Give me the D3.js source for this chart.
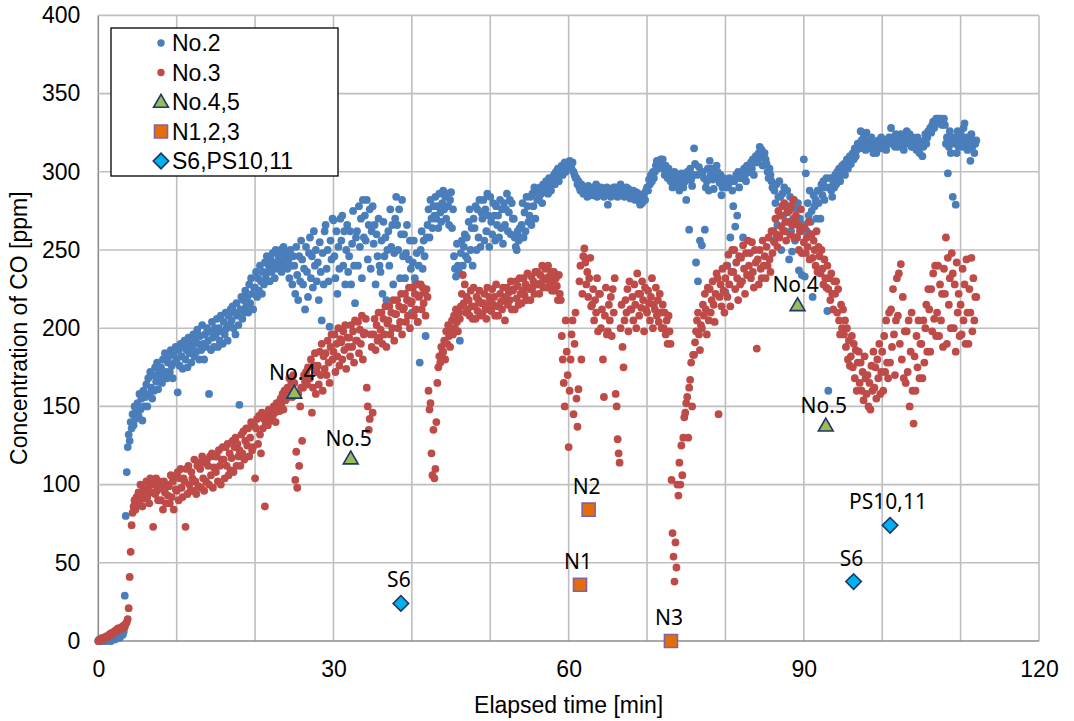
<!DOCTYPE html>
<html><head><meta charset="utf-8">
<script src="https://cdn.jsdelivr.net/npm/d3@7"></script>
<style>body{margin:0;background:#fff}</style>
</head><body>
<svg id="c" width="1074" height="721"></svg>
<script>
// logger sampling interval (min): 8 readings per minute
const sampleInterval = 0.125;
// No.2 CO readings (ppm), one group of 8 per minute
const no2 = [
0,1,0,0,1,0,1,0, 1,0,1,2,1,0,2,1, 2,1,3,2,4,3,2,4, 5,4,6,29,80,108,124,132,
128,140,136,145,138,150,142,147, 152,144,158,148,155,141,160,150, 156,164,150,168,158,172,162,155, 170,160,175,166,178,161,172,168,
175,165,180,170,184,172,168,178, 182,172,186,176,168,183,178,188, 180,159,186,176,190,182,174,188, 192,180,186,175,194,184,190,178,
188,196,182,192,185,199,190,180, 195,186,202,190,180,196,188,200, 192,158,198,186,204,194,188,200, 196,206,188,200,192,208,198,190,
204,196,210,200,192,208,202,212, 205,214,200,210,196,216,208,202, 151,212,220,206,218,210,224,214, 220,210,228,216,232,222,212,226,
226,236,220,232,224,240,230,222, 236,228,242,232,246,236,240,230, 244,236,248,240,232,250,242,238, 246,240,250,236,244,252,240,246,
248,238,244,232,250,240,228,246, 240,222,252,234,218,246,230,256, 244,228,238,212,252,236,220,248, 258,232,246,226,262,240,250,230,
242,218,255,236,205,248,228,262, 266,238,250,230,201,256,244,270, 269,246,232,262,222,252,238,270, 256,272,240,262,228,250,266,236,
246,262,228,254,275,240,216,258, 262,240,278,252,270,232,282,258, 272,256,282,244,266,276,238,262, 278,254,266,228,260,246,270,240,
236,256,222,268,246,258,218,250, 262,240,276,252,266,228,248,270, 284,266,250,276,232,260,282,246, 260,232,248,266,218,244,256,238,
210,242,256,232,229,248,204,240, 178,250,262,238,256,246,195,258, 266,276,258,282,270,264,278,272, 284,270,278,264,286,274,268,280,
288,276,284,270,286,278,266,282, 287,264,276,246,238,233,254,240, 236,192,248,256,240,252,260,246, 258,244,268,276,250,264,240,270,
264,278,250,276,258,282,252,274, 270,282,256,276,262,286,272,252, 284,268,260,280,272,256,278,266, 272,258,282,264,276,254,280,266,
276,286,262,274,282,260,280,270, 270,258,252,250,262,256,264,258, 266,280,258,274,262,284,278,268, 272,284,266,286,278,290,270,288,
282,288,284,290,286,280,292,288, 288,294,290,286,296,292,288,294, 294,298,292,300,296,302,294,298, 300,304,298,302,306,300,304,302,
304,307,305,302,306,300,298,296, 296,292,294,290,288,292,289,286, 290,286,288,284,291,287,285,289, 288,285,290,286,292,284,288,286,
287,290,285,288,284,289,286,290, 279,286,289,284,288,286,290,285, 290,286,284,289,287,292,285,288, 288,284,287,290,285,289,286,283,
286,283,288,285,282,287,284,286, 281,279,284,280,283,286,282,288, 290,288,295,292,298,294,300,296, 300,304,307,302,306,303,308,304,
308,302,298,304,300,296,302,298, 294,298,290,296,300,292,298,295, 291,288,296,299,293,290,297,294, 282,300,296,263,302,295,291,298,
315,305,242,298,230,303,256,300, 253,300,296,263,290,294,302,288, 307,298,302,295,289,300,296,304, 300,296,293,298,285,290,296,292,
223,290,240,292,296,258,294,288, 278,294,265,298,272,300,290,296, 296,300,258,302,298,294,304,300, 304,300,306,302,308,298,306,310,
310,306,312,316,309,314,304,312, 312,308,305,300,296,302,298,294, 290,256,288,280,292,266,284,294, 284,250,286,272,290,262,278,288,
278,244,284,262,249,270,282,256, 276,258,280,237,270,262,234,266, 308,233,299,262,280,272,288,268, 275,220,285,278,282,270,288,280,
288,270,292,285,294,282,290,296, 211,160,290,296,288,284,294,290, 298,292,300,296,302,294,298,304, 300,305,298,304,308,302,306,310,
305,310,312,308,315,310,314,318, 318,315,326,320,316,322,318,314, 325,318,315,320,316,322,318,312, 314,318,312,316,320,318,315,322,
318,315,320,316,314,320,318,322, 318,328,322,318,320,316,324,320, 316,322,318,324,320,318,314,322, 322,326,320,318,324,320,316,322,
316,320,318,314,322,318,312,316, 318,310,316,320,324,318,322,326, 326,328,325,330,332,328,330,334, 334,333,334,332,334,330,333,334,
330,318,322,299,316,326,312,320, 284,322,318,279,312,326,316,322, 325,320,316,328,331,318,322,314, 322,318,307,324,316,320,312,318,
320
];
// No.3 CO readings (ppm), one group of 8 per minute
const no3 = [
0,0,1,1,2,1,2,2, 3,2,3,4,4,5,4,5, 6,6,7,6,8,7,8,8, 9,8,10,9,11,12,14,21,
41,57,74,82,86,90,84,92, 88,95,90,100,93,86,97,91, 96,102,92,99,88,104,95,100, 73,100,94,104,96,90,102,98,
90,98,84,102,95,88,100,93, 99,88,106,92,102,84,105,97, 96,108,90,104,110,98,92,104, 102,73,110,94,112,100,96,108,
104,96,116,102,94,112,99,114, 110,98,118,104,96,114,102,116, 112,100,118,106,120,98,111,118, 108,118,102,122,112,100,116,124,
116,104,124,112,126,106,120,109, 117,128,108,124,130,112,126,118, 122,112,132,120,134,116,128,136, 125,136,118,130,140,122,124,138,
104,136,142,126,144,132,120,146, 136,142,86,139,145,138,148,141, 141,148,144,150,146,140,152,147, 152,147,155,150,158,148,160,154,
155,162,158,168,160,165,156,170, 165,103,121,98,158,112,150,162, 128,162,170,166,172,164,175,168, 168,180,146,162,176,184,158,172,
176,164,185,170,190,160,182,174, 184,170,192,178,165,188,196,180, 185,196,172,190,182,200,176,193, 191,180,198,186,202,174,194,188,
194,182,202,188,198,178,205,192, 192,204,184,199,190,208,180,196, 197,206,162,150,135,142,196,188, 146,196,206,186,202,192,210,194,
199,210,190,206,196,214,188,203, 205,214,196,210,200,218,192,209, 209,218,200,214,204,222,196,212, 213,222,204,218,208,226,200,216,
217,226,208,222,212,228,204,220, 221,228,212,226,216,223,208,225, 220,160,148,152,120,106,135,104, 110,140,165,175,182,178,188,184,
185,192,180,198,190,202,195,188, 200,205,196,208,200,212,204,198, 210,206,214,222,234,216,228,210, 220,212,218,208,224,214,206,226,
214,206,220,211,218,224,208,216, 209,216,222,212,206,226,214,220, 218,211,225,215,220,208,228,214, 208,214,222,217,212,226,218,205,
220,226,215,223,218,230,212,224, 225,212,230,219,227,215,232,222, 216,224,232,221,228,218,235,226, 225,218,233,226,230,222,236,228,
236,228,222,234,229,240,226,232, 238,231,226,240,233,228,236,224, 230,236,224,232,227,218,234,222, 218,195,180,165,150,205,185,170,
124,160,180,196,205,145,190,210, 155,137,161,230,240,180,222,246, 251,242,228,236,220,232,245,214, 215,225,205,218,210,232,198,222,
222,200,212,180,156,208,226,196, 198,215,205,220,195,225,210,232, 158,150,129,120,114,200,215,188, 175,205,218,210,225,198,230,212,
212,220,205,228,215,200,235,222, 208,222,213,230,218,198,226,212, 210,224,216,205,220,232,200,215, 212,226,208,218,204,222,210,200,
215,200,210,196,205,190,208,198, 190,103,69,54,38,63,47,100, 93,114,100,125,106,130,143,146, 152,156,130,162,167,178,150,183,
183,191,198,205,210,196,186,202, 200,215,208,222,212,196,226,205, 225,210,218,230,215,204,222,235, 232,145,220,228,214,238,224,210,
232,240,220,247,228,214,236,250, 236,250,225,242,232,218,246,228, 245,230,253,238,222,248,234,256, 240,248,232,255,236,226,250,242,
187,244,228,250,238,232,256,240, 246,232,252,240,258,244,236,262, 248,262,255,270,260,252,275,258, 272,265,278,262,280,268,256,274,
268,275,260,278,266,282,258,270, 272,258,266,250,262,276,248,264, 255,264,248,258,252,268,244,260, 260,245,256,250,240,262,236,252,
246,235,250,238,228,244,232,226, 240,225,232,218,235,222,212,230, 222,230,210,225,205,196,215,200, 212,196,205,188,200,180,192,176,
182,195,175,190,168,186,160,178, 185,165,178,160,172,154,182,168, 158,170,150,165,148,176,160,185, 162,175,155,180,168,190,158,172,
185,160,195,172,205,178,168,210, 178,212,188,225,196,170,205,232, 208,235,190,241,180,220,168,198, 165,198,172,205,150,185,210,160,
139,182,160,195,175,205,168,190, 190,168,205,178,200,215,185,225, 212,185,225,198,235,206,240,195, 210,240,195,228,205,222,188,238,
222,258,190,245,215,232,200,248, 235,200,228,185,242,210,222,195, 215,196,238,205,228,190,244,210, 190,225,210,245,198,232,205,220,
220
];
// spot measurements
const no45Time = [25.0, 32.2, 89.2, 92.8];
const no45Value = [158, 116, 214, 137];
const no45Label = ["No.4", "No.5", "No.4", "No.5"];
const nTime = [61.45, 62.55, 73.05];
const nValue = [36, 84, 0];
const nLabel = ["N1", "N2", "N3"];
const sTime = [38.6, 96.35, 101.0];
const sValue = [24, 38, 74];
const sLabel = ["S6", "S6", "PS10,11"];

const xTicks = [0, 30, 60, 90, 120];
const xGrid = [0,10,20,30,40,50,60,70,80,90,100,110,120];
const yTicks = [0,50,100,150,200,250,300,350,400];
const legendLabels = ["No.2", "No.3", "No.4,5", "N1,2,3", "S6,PS10,11"];

const svg = d3.select("#c");
svg.append("rect").attr("width",1074).attr("height",721).attr("fill","#fff");
const x = d3.scaleLinear().domain([0,120]).range([98.3,1039]);
const y = d3.scaleLinear().domain([0,400]).range([641,15.4]);

const grid = svg.append("g");
grid.selectAll("line.v").data(xGrid).join("line")
  .attr("x1",d=>x(d)).attr("x2",d=>x(d)).attr("y1",y(0)).attr("y2",y(400))
  .attr("stroke",d=>d===0?"#8c8c8c":"#bfbfbf").attr("stroke-width",1.6);
grid.selectAll("line.h").data(yTicks).join("line")
  .attr("x1",x(0)).attr("x2",x(120)).attr("y1",d=>y(d)).attr("y2",d=>y(d))
  .attr("stroke",d=>d===0?"#8c8c8c":"#bfbfbf").attr("stroke-width",1.6);

const font = "Liberation Sans, Arial, sans-serif";
const yAxis = svg.append("g").attr("transform",`translate(${x(0)},0)`)
  .call(d3.axisLeft(y).tickValues(yTicks).tickSize(0).tickPadding(18));
const xAxis = svg.append("g").attr("transform",`translate(0,${y(0)})`)
  .call(d3.axisBottom(x).tickValues(xTicks).tickSize(0).tickPadding(20));
[xAxis,yAxis].forEach(a=>{a.select(".domain").remove();
  a.selectAll("text").attr("font-family",font).attr("font-size",23).attr("fill","#000");});

svg.append("text").attr("x",(x(0)+x(120))/2).attr("y",713).attr("text-anchor","middle")
  .attr("font-family",font).attr("font-size",23).text("Elapsed time [min]");
svg.append("text").attr("transform",`translate(27,${(y(0)+y(400))/2}) rotate(-90)`)
  .attr("text-anchor","middle").attr("font-family",font).attr("font-size",23)
  .text("Concentration of CO [ppm]");

const blue = "#4a7ebb", red = "#be4b48";
const plot = svg.append("g");
plot.selectAll("circle.b").data(no2).join("circle")
  .attr("cx",(d,i)=>x(i*sampleInterval)).attr("cy",d=>y(d)).attr("r",3.9).attr("fill",blue);
plot.selectAll("circle.r").data(no3).join("circle")
  .attr("cx",(d,i)=>x(i*sampleInterval)).attr("cy",d=>y(d)).attr("r",3.9).attr("fill",red);

const tri = d3.symbol().type(d3.symbolTriangle).size(95);
const sq = d3.symbol().type(d3.symbolSquare).size(170);
const dia = d3.symbol().type(d3.symbolSquare).size(120);
const labelFont = "Noto Sans, Open Sans, sans-serif";

function spot(times, vals, labels, sym, rot, fill, stroke, off){
  const g = svg.append("g");
  g.selectAll("path").data(times).join("path")
    .attr("d",sym).attr("transform",(d,i)=>`translate(${x(d)},${y(vals[i])}) rotate(${rot})`)
    .attr("fill",fill).attr("stroke",stroke).attr("stroke-width",1.6);
  g.selectAll("text").data(times).join("text")
    .attr("x",(d)=>x(d)-2).attr("y",(d,i)=>y(vals[i])-off)
    .attr("text-anchor","middle").attr("font-family",labelFont).attr("font-size",21)
    .attr("fill","#000").text((d,i)=>labels[i]);
}
spot(no45Time,no45Value,no45Label,tri,0,"#9bbb59","#1f3864",14);
spot(nTime,nValue,nLabel,sq,0,"#e46c0a","#8064a2",16);
spot(sTime,sValue,sLabel,dia,45,"#00b0f0","#1f3864",16);

// legend
const lg = svg.append("g");
lg.append("rect").attr("x",111).attr("y",28).attr("width",227).attr("height",148)
  .attr("fill","#fff").attr("stroke","#000").attr("stroke-width",1.3);
const rowY = d3.scalePoint().domain(legendLabels).range([43,161]);
lg.selectAll("text").data(legendLabels).join("text")
  .attr("x",172).attr("y",d=>rowY(d)+8).attr("font-family",font).attr("font-size",23)
  .text(d=>d);
const mx = 161;
lg.append("circle").attr("cx",mx).attr("cy",rowY("No.2")).attr("r",3.7).attr("fill",blue);
lg.append("circle").attr("cx",mx).attr("cy",rowY("No.3")).attr("r",3.7).attr("fill",red);
lg.append("path").attr("d",tri).attr("transform",`translate(${mx},${rowY("No.4,5")+1})`)
  .attr("fill","#9bbb59").attr("stroke","#1f3864").attr("stroke-width",1.6);
lg.append("path").attr("d",sq).attr("transform",`translate(${mx},${rowY("N1,2,3")})`)
  .attr("fill","#e46c0a").attr("stroke","#8064a2").attr("stroke-width",1.6);
lg.append("path").attr("d",dia).attr("transform",`translate(${mx},${rowY("S6,PS10,11")}) rotate(45)`)
  .attr("fill","#00b0f0").attr("stroke","#1f3864").attr("stroke-width",1.6);
</script>
</body></html>
